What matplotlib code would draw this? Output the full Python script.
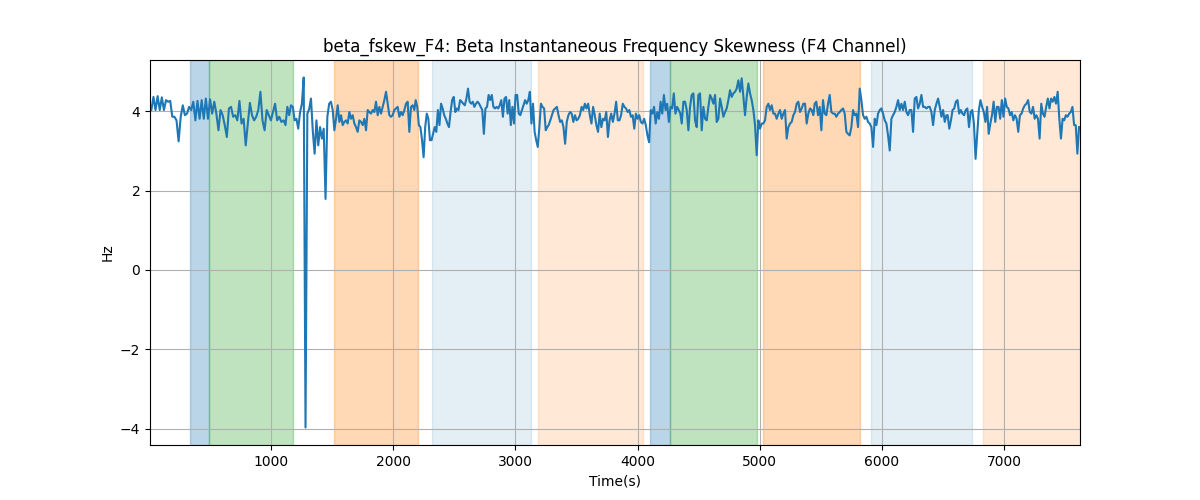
import numpy as np
import matplotlib
matplotlib.use("Agg")
import matplotlib.pyplot as plt

# beta_fskew_F4 values, one list per stretch of time
vals_a = [4.03, 4.36, 4.03, 4.38, 4.03, 4.35, 4.03, 4.28, 4.24, 4.26, 3.86, 3.86, 3.77, 3.24, 3.86,
          4.15, 3.90, 3.94, 4.11, 4.03, 4.24, 3.77, 4.26, 3.81, 4.28, 3.81, 4.32, 3.81, 4.30, 3.94,
          4.24, 3.94, 3.52, 4.03, 3.90, 3.65, 3.35, 4.07, 4.11, 3.86, 3.90, 3.77, 4.26, 3.69, 3.81,
          3.14, 3.69, 4.21, 3.90, 3.77, 3.86, 4.03, 4.49, 3.77, 3.52, 4.03, 3.90, 3.77, 3.98, 4.19,
          3.77, 3.86, 3.73]
vals_b1 = [3.77, 3.65, 4.11, 3.90, 4.15, 4.11, 3.77, 3.81, 3.56, 3.98, 4.19, 4.85, -3.97, 3.94,
           4.05, 4.32, 3.50, 2.93, 3.77, 3.14, 3.60, 3.31, 3.56, 1.79, 3.86, 4.19, 4.24]
vals_b2 = [4.03, 3.52, 3.81, 4.15, 3.73, 3.90, 3.65, 3.73, 3.77, 3.69, 3.98, 3.81, 3.90, 3.69, 3.60,
           3.48, 3.77, 3.73, 3.65, 3.81, 3.52, 4.03, 3.98, 3.94, 4.03, 3.98, 4.24, 3.90, 4.11, 3.94,
           4.11, 4.28, 4.49, 4.19, 3.90, 3.86, 3.90, 4.03, 4.07, 4.11, 3.86, 3.98, 3.90, 4.03, 4.19,
           4.24, 3.48, 4.11, 4.15, 4.03]
vals_c = [4.28, 4.11, 3.65, 3.60, 3.27, 2.84, 3.60, 3.94, 3.81, 3.27, 3.27, 3.43, 3.60, 3.48, 4.03,
          3.65, 4.19, 4.07, 3.90, 3.81, 3.69, 3.60, 3.98, 4.28, 4.36, 3.98, 4.07, 4.03, 4.28, 4.24,
          4.19, 4.15, 4.32, 4.57, 4.24, 4.19, 4.24, 4.11, 4.19, 4.24, 4.19, 4.11, 4.03, 3.43, 4.07,
          4.11, 4.41, 4.28, 4.41, 4.11, 4.07, 4.11, 4.07, 4.15, 4.28, 3.86, 4.32, 4.36, 3.94, 4.28,
          3.65, 4.11, 3.69, 4.41, 4.41, 3.94, 3.90, 4.03, 4.15, 4.28, 4.19, 4.28, 4.49, 3.69, 4.19,
          3.48, 3.27, 3.10, 3.60, 4.19, 4.11, 4.07, 3.52, 3.60]
vals_d = [3.65, 3.77, 3.90, 4.03, 4.07, 4.11, 3.90, 3.73, 3.77, 3.60, 3.18, 3.73, 3.90, 3.98, 3.94,
          3.73, 3.90, 3.77, 3.81, 3.90, 4.11, 4.03, 4.19, 4.07, 4.19, 3.90, 3.69, 4.11, 3.90, 3.65,
          3.48, 3.94, 3.60, 3.81, 3.77, 3.98, 3.35, 3.77, 3.94, 3.73, 3.94, 4.24, 3.77, 3.77, 3.90,
          4.19, 4.11, 4.07, 3.98, 4.03, 3.86, 3.90, 3.56, 3.94, 3.81, 3.90, 3.73, 3.69, 3.81, 3.65,
          3.39, 3.22, 4.03, 3.94, 4.11, 3.69, 3.98, 3.81, 4.24, 3.94, 4.41, 4.03, 4.19, 3.73, 4.11,
          4.07, 4.45, 3.94, 4.11, 4.03, 3.94]
vals_e = [3.69, 4.24, 4.24, 4.03, 3.52, 4.11, 4.41, 4.45, 3.77, 3.60, 4.41, 4.45, 3.52, 4.11, 3.81,
          3.77, 4.11, 4.41, 4.32, 4.19, 4.41, 3.73, 3.81, 4.32, 4.11, 3.86, 3.98, 4.07, 4.28, 4.53,
          4.36, 4.45, 4.49, 4.57, 4.78, 4.49, 4.83, 4.36, 3.90, 4.36, 4.70, 4.45, 4.28, 4.03, 3.65,
          2.89, 3.77, 3.56, 3.69, 3.69, 3.77, 4.11, 4.19, 4.03, 4.15, 3.94, 3.94, 3.81, 3.94, 4.03,
          3.81, 3.94, 4.03, 3.31, 3.60, 3.69, 3.73, 3.90, 3.98, 4.19, 4.24, 3.98, 4.07, 4.19, 4.19,
          3.69, 3.94, 4.07, 4.03, 3.90]
vals_f = [4.19, 4.24, 3.90, 4.11, 3.52, 4.28, 3.94, 3.90, 4.19, 4.41, 3.98, 3.94, 3.94, 3.86, 3.94,
          3.98, 4.03, 4.07, 3.94, 3.48, 3.43, 3.39, 3.60, 4.03, 3.90, 3.94, 3.60, 4.57, 4.28, 3.90,
          3.81, 3.86, 3.73, 3.69, 3.60, 3.10, 3.81, 3.65, 3.94, 4.03, 4.07, 3.94, 3.77, 3.69, 3.39,
          3.01, 3.81, 3.90, 3.98, 4.11, 4.28, 4.03, 4.19, 4.03, 4.24, 3.98, 3.90, 4.03, 4.03, 3.48,
          4.32, 4.36, 4.07, 4.19, 4.41, 4.11, 4.11, 4.07, 4.11, 4.11, 3.98, 3.65, 4.03, 4.19, 4.32,
          4.11, 3.86, 4.03, 3.73, 3.90]
vals_g = [3.90, 3.56, 3.77, 4.03, 4.07, 4.24, 4.28, 3.94, 4.03, 3.94, 3.90, 4.03, 4.07, 3.60, 3.98,
          4.03, 3.69, 2.80, 3.43, 4.03, 4.28, 4.11, 3.98, 3.73, 4.11, 3.43, 3.69, 3.90, 4.24, 3.73,
          4.11, 4.11, 3.81, 4.28, 3.86, 4.32, 4.11, 4.07, 3.90, 3.98, 3.77, 3.90, 3.81, 3.48, 3.90,
          3.94, 4.07, 4.15, 4.19, 4.28, 3.98, 3.94, 4.11, 3.81, 3.90, 3.81, 3.31, 4.19, 3.94, 3.86,
          4.11, 4.32, 4.07, 4.32, 4.24, 4.36, 4.19, 4.49, 3.81, 3.31, 3.81, 3.77, 3.90, 3.86, 3.94,
          3.98, 4.11, 3.65, 3.65, 2.93, 3.60]

# start / end time (s) of each stretch
seg_times = [(21, 1085), (1104, 1491), (1505, 2173), (2184, 3261),
             (3272, 4350), (4361, 5438), (5449, 6527), (6537, 7612)]
segments = [vals_a, vals_b1, vals_b2, vals_c, vals_d, vals_e, vals_f, vals_g]

# shaded periods: (start, end, colour, alpha)
spans = [(337, 493, 'tab:blue', 0.3), (493, 1180, 'tab:green', 0.3),
         (1515, 2203, 'tab:orange', 0.3), (2318, 3128, 'tab:blue', 0.12),
         (3185, 4044, 'tab:orange', 0.17), (4101, 4265, 'tab:blue', 0.3),
         (4265, 4977, 'tab:green', 0.3), (5026, 5820, 'tab:orange', 0.3),
         (5910, 6737, 'tab:blue', 0.12), (6827, 7620, 'tab:orange', 0.17)]

t = np.concatenate([np.linspace(a, b, len(v)) for (a, b), v in zip(seg_times, segments)])
y = np.concatenate(segments)

fig, ax = plt.subplots(figsize=(12, 5), dpi=100)
for s, e, c, a in spans:
    ax.axvspan(s, e, color=c, alpha=a)
ax.plot(t, y, color='tab:blue')
ax.set_xlim(10, 7620)
ax.set_title('beta_fskew_F4: Beta Instantaneous Frequency Skewness (F4 Channel)')
ax.set_xlabel('Time(s)')
ax.set_ylabel('Hz')
ax.grid(True)
fig.savefig('out.png')
